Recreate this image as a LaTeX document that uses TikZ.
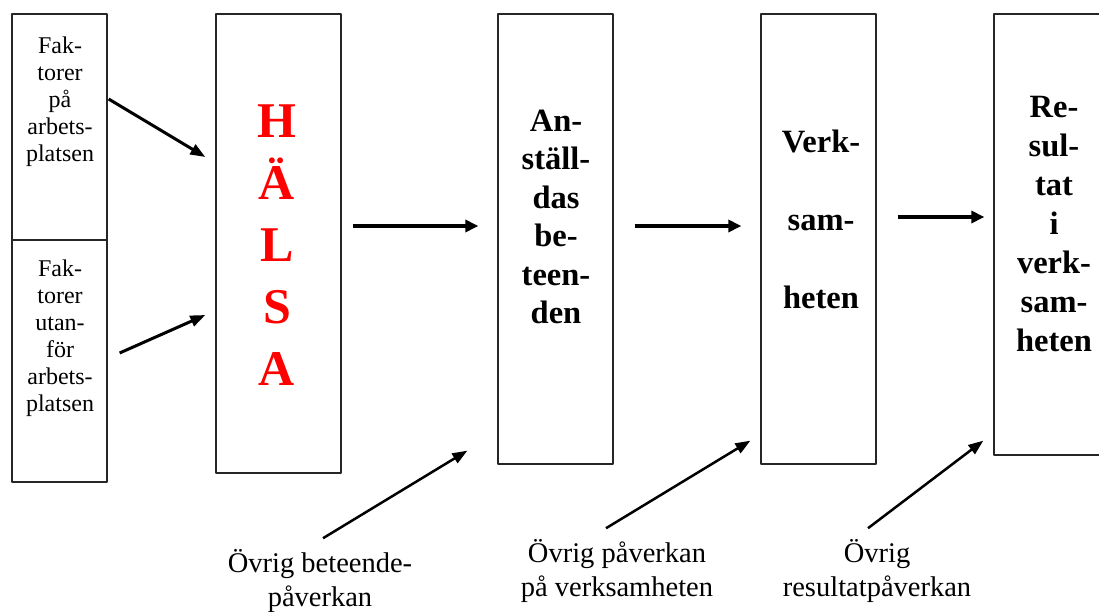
\documentclass[tikz,border=0pt]{standalone}
\usepackage{fontspec}
\setmainfont{Liberation Serif}
\usetikzlibrary{arrows.meta}
\tikzset{
  box/.style={draw=black!85,line width=1.3pt,inner sep=0pt},
  smalltxt/.style={align=center,inner sep=0pt,font=\fontsize{24}{27}\selectfont},
  boldtxt/.style={align=center,inner sep=0pt,font=\fontsize{32.5}{38.5}\selectfont\bfseries},
  lowtxt/.style={align=center,inner sep=0pt,font=\fontsize{28.5}{34}\selectfont},
  fatarrow/.style={line width=4pt,-{Triangle[length=13pt,width=12pt]}},
  midarrow/.style={line width=3pt,-{Triangle[length=15pt,width=11pt]}},
  thinarrow/.style={line width=2.5pt,-{Triangle[length=15pt,width=11pt]}}
}
\begin{document}
\begin{tikzpicture}[x=1pt,y=-1pt,line join=round]
\useasboundingbox (0,0) rectangle (1099,612);
\node[box,minimum width=95pt,minimum height=226pt] (fakpa) at (59.5,127) {};
\node[box,minimum width=95pt,minimum height=242pt] (fakutan) at (59.5,361) {};
\node[box,minimum width=125pt,minimum height=459pt] (halsa) at (278.5,243.5) {};
\node[box,minimum width=115pt,minimum height=450pt] (anst) at (555.5,239) {};
\node[box,minimum width=115pt,minimum height=450pt] (verk) at (818.5,239) {};
\node[box,minimum width=115pt,minimum height=441pt] (res) at (1051.5,234.5) {};

\node[smalltxt] (fakpatxt) at (60,102) {Fak-\\torer\\på\\arbets-\\platsen};
\node[smalltxt] (fakutantxt) at (60,338.5) {Fak-\\torer\\utan-\\för\\arbets-\\platsen};
\node[boldtxt,text=red,font=\fontsize{50}{62}\selectfont\bfseries] (halsatxt) at (277,245) {H\\Ä\\L\\S\\A};
\node[boldtxt] (ansttxt) at (556,217) {An-\\ställ-\\das\\be-\\teen-\\den};
\node[boldtxt,font=\fontsize{32.5}{78}\selectfont\bfseries] (verktxt) at (821,219) {Verk-\\sam-\\heten};
\node[boldtxt,font=\fontsize{32.5}{39}\selectfont\bfseries] (restxt) at (1054,224) {Re-\\sul-\\tat\\i\\verk-\\sam-\\heten};

\node[lowtxt] (ovr1) at (320,581) {Övrig beteende-\\påverkan};
\node[lowtxt] (ovr2) at (617,571) {Övrig påverkan\\på verksamheten};
\node[lowtxt] (ovr3) at (877,571) {Övrig\\resultatpåverkan};

\draw[midarrow] ([xshift=1pt,yshift=28pt]fakpa.east) -- ([xshift=-10pt,yshift=86.5pt]halsa.west);
\draw[midarrow] ([xshift=12pt,yshift=8pt]fakutan.east) -- ([xshift=-10pt,yshift=-71.5pt]halsa.west);

\draw[fatarrow] ([xshift=11pt,yshift=17.5pt]halsa.east) -- ([xshift=-19pt,yshift=13pt]anst.west);
\draw[fatarrow] ([xshift=21pt,yshift=13pt]anst.east) -- ([xshift=-19pt,yshift=13pt]verk.west);
\draw[fatarrow] ([xshift=21pt,yshift=22pt]verk.east) -- ([xshift=-9pt,yshift=17.5pt]res.west);

\draw[thinarrow] ([xshift=3pt,yshift=11pt]ovr1.north) -- ([xshift=-30pt,yshift=14pt]anst.south west);
\draw[thinarrow] ([xshift=-11pt,yshift=11pt]ovr2.north) -- ([xshift=-10pt,yshift=24pt]verk.south west);
\draw[thinarrow] ([xshift=-9pt,yshift=11pt]ovr3.north) -- ([xshift=-10pt,yshift=15pt]res.south west);
\end{tikzpicture}
\end{document}
